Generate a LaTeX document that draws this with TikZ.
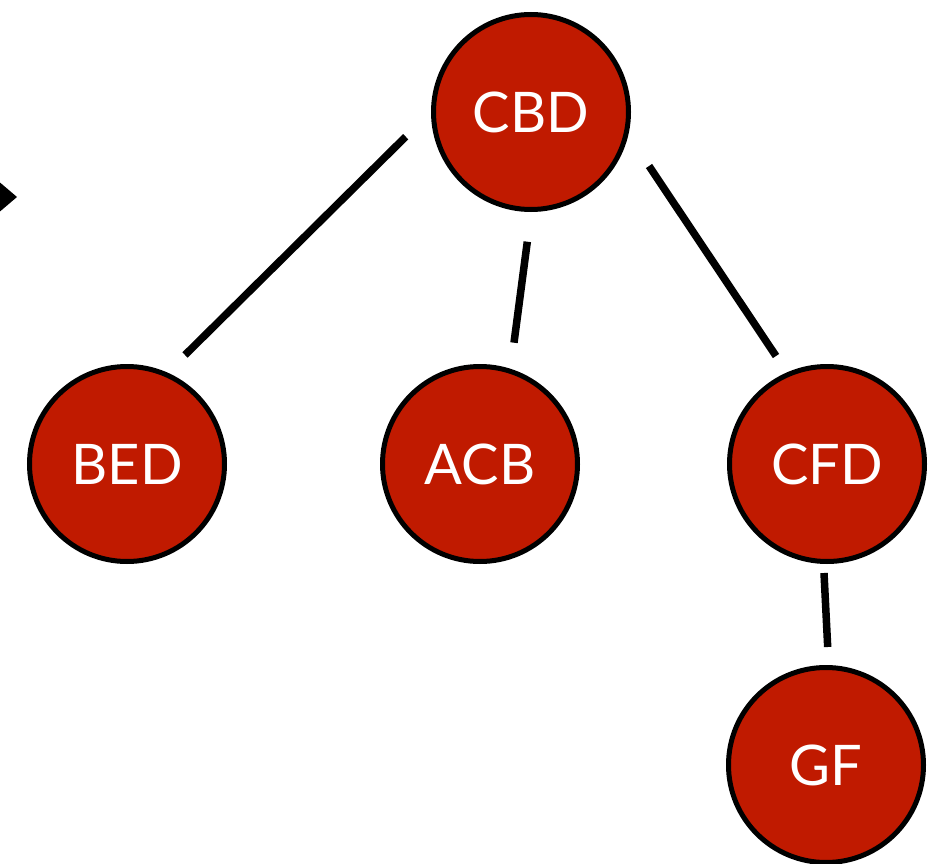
\documentclass[tikz,border=0pt]{standalone}
\usepackage{fontspec}
\setmainfont{Lato}
\usetikzlibrary{calc}
\begin{document}
\begin{tikzpicture}[x=1pt, y=-1pt,
  treenode/.style={circle, draw=black, line width=5pt, fill=nodered,
    minimum size=195pt, inner sep=0pt, outer sep=0pt,
    text=white, font=\fontsize{56}{60}\selectfont},
  link/.style={draw=black, line width=7.5pt, line cap=butt}]
\definecolor{nodered}{RGB}{192,26,0}
\useasboundingbox (0,0) rectangle (935,864);

% arrow tip entering from the left edge
\fill[black] (-3,180) -- (17,197) -- (-3,214) -- cycle;

% tree nodes
\node[treenode] (cbd) at (531,112) {CBD};
\node[treenode] (bed) at (127,464) {BED};
\node[treenode] (acb) at (480,464) {ACB};
\node[treenode] (cfd) at (827,464) {CFD};
\node[treenode] (gf)  at (826,765) {GF};

% connectors, stopping short of the circles
\draw[link] ($(cbd.center)+(-125.3,24.7)$) -- ($(bed.center)+(58,-109)$);
\draw[link] ($(cbd.center)+(-3.7,129.7)$)  -- ($(acb.center)+(34,-121.3)$);
\draw[link] ($(cbd.center)+(118,54)$)      -- ($(cfd.center)+(-51,-108)$);
\draw[link] ($(cfd.center)+(-3,109)$)      -- ($(gf.center)+(1.7,-118)$);
\end{tikzpicture}
\end{document}
